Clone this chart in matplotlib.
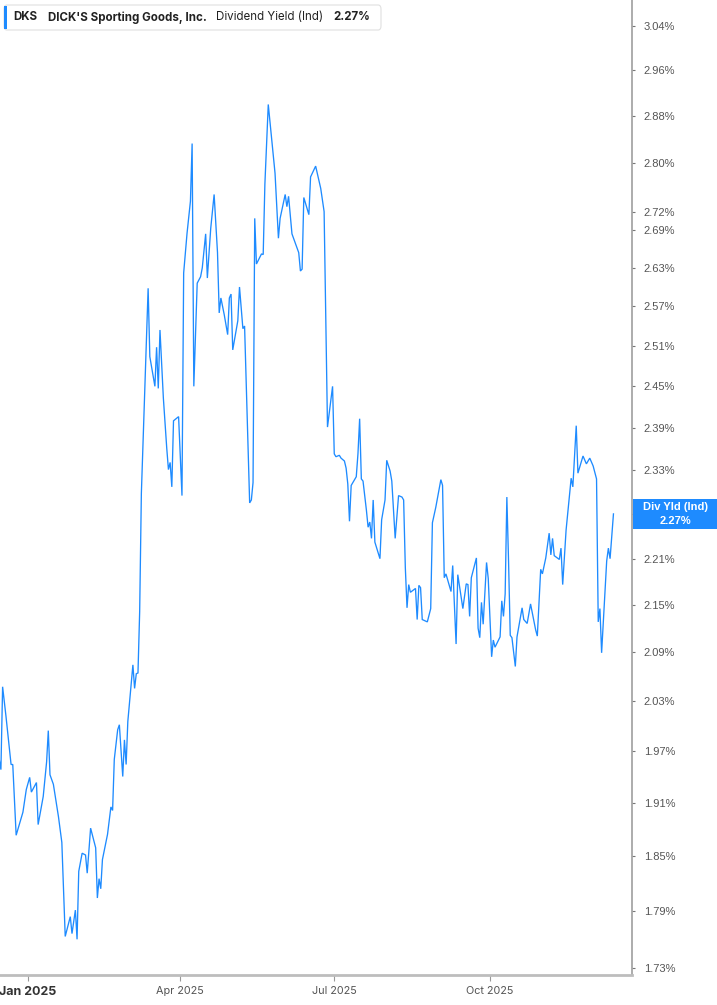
import matplotlib
matplotlib.use("Agg")
import matplotlib.pyplot as plt
import matplotlib.ticker as mticker
from matplotlib.patches import FancyBboxPatch, Rectangle
import pandas as pd

# ---------------- data ----------------
dates = [
    "2024-12-15", "2024-12-16", "2024-12-17", "2024-12-19", "2024-12-22", "2024-12-23",
    "2024-12-25", "2024-12-29", "2024-12-31", "2025-01-02", "2025-01-03", "2025-01-06",
    "2025-01-07", "2025-01-10", "2025-01-12", "2025-01-13", "2025-01-14", "2025-01-16",
    "2025-01-19", "2025-01-21", "2025-01-23", "2025-01-26", "2025-01-27", "2025-01-29",
    "2025-01-30", "2025-01-31", "2025-02-02", "2025-02-04", "2025-02-05", "2025-02-07",
    "2025-02-10", "2025-02-11", "2025-02-12", "2025-02-13", "2025-02-14", "2025-02-17",
    "2025-02-19", "2025-02-20", "2025-02-21", "2025-02-23", "2025-02-24", "2025-02-26",
    "2025-02-27", "2025-02-28", "2025-03-01", "2025-03-04", "2025-03-05", "2025-03-06",
    "2025-03-07", "2025-03-08", "2025-03-09", "2025-03-11", "2025-03-13", "2025-03-14",
    "2025-03-17", "2025-03-18", "2025-03-19", "2025-03-20", "2025-03-22", "2025-03-24",
    "2025-03-25", "2025-03-26", "2025-03-27", "2025-03-28", "2025-03-31", "2025-04-01",
    "2025-04-02", "2025-04-03", "2025-04-05", "2025-04-07", "2025-04-08", "2025-04-09",
    "2025-04-11", "2025-04-13", "2025-04-14", "2025-04-16", "2025-04-17", "2025-04-19",
    "2025-04-21", "2025-04-23", "2025-04-24", "2025-04-25", "2025-04-27", "2025-04-29",
    "2025-04-30", "2025-05-01", "2025-05-02", "2025-05-05", "2025-05-06", "2025-05-08",
    "2025-05-09", "2025-05-12", "2025-05-13", "2025-05-14", "2025-05-15", "2025-05-16",
    "2025-05-19", "2025-05-20", "2025-05-21", "2025-05-23", "2025-05-27", "2025-05-29",
    "2025-05-30", "2025-06-02", "2025-06-03", "2025-06-04", "2025-06-06", "2025-06-10",
    "2025-06-11", "2025-06-12", "2025-06-13", "2025-06-16", "2025-06-17", "2025-06-20",
    "2025-06-23", "2025-06-25", "2025-06-27", "2025-06-30", "2025-07-01", "2025-07-02",
    "2025-07-04", "2025-07-05", "2025-07-07", "2025-07-08", "2025-07-09", "2025-07-10",
    "2025-07-11", "2025-07-14", "2025-07-15", "2025-07-16", "2025-07-17", "2025-07-18",
    "2025-07-20", "2025-07-21", "2025-07-22", "2025-07-23", "2025-07-24", "2025-07-25",
    "2025-07-28", "2025-07-29", "2025-07-31", "2025-08-01", "2025-08-03", "2025-08-04",
    "2025-08-06", "2025-08-08", "2025-08-10", "2025-08-11", "2025-08-12", "2025-08-13",
    "2025-08-14", "2025-08-15", "2025-08-18", "2025-08-19", "2025-08-20", "2025-08-21",
    "2025-08-22", "2025-08-25", "2025-08-27", "2025-08-28", "2025-08-30", "2025-09-02",
    "2025-09-03", "2025-09-04", "2025-09-05", "2025-09-08", "2025-09-09", "2025-09-11",
    "2025-09-12", "2025-09-15", "2025-09-17", "2025-09-18", "2025-09-19", "2025-09-20",
    "2025-09-23", "2025-09-24", "2025-09-25", "2025-09-26", "2025-09-27", "2025-09-29",
    "2025-09-30", "2025-10-02", "2025-10-03", "2025-10-04", "2025-10-07", "2025-10-08",
    "2025-10-09", "2025-10-10", "2025-10-11", "2025-10-12", "2025-10-13", "2025-10-14",
    "2025-10-16", "2025-10-17", "2025-10-20", "2025-10-21", "2025-10-23", "2025-10-25",
    "2025-10-28", "2025-10-29", "2025-10-31", "2025-11-01", "2025-11-03", "2025-11-05",
    "2025-11-06", "2025-11-07", "2025-11-08", "2025-11-11", "2025-11-12", "2025-11-13",
    "2025-11-15", "2025-11-18", "2025-11-19", "2025-11-21", "2025-11-22", "2025-11-25",
    "2025-11-27", "2025-11-29", "2025-12-01", "2025-12-03", "2025-12-04", "2025-12-05",
    "2025-12-06", "2025-12-09", "2025-12-10", "2025-12-11", "2025-12-13",
]

div_yield = [
    1.960, 1.948, 2.047, 2.011, 1.954, 1.954,
    1.873, 1.899, 1.925, 1.939, 1.922, 1.933,
    1.885, 1.917, 1.957, 1.994, 1.942, 1.931,
    1.894, 1.865, 1.763, 1.784, 1.766, 1.791,
    1.760, 1.833, 1.853, 1.851, 1.831, 1.881,
    1.859, 1.804, 1.825, 1.814, 1.846, 1.874,
    1.905, 1.901, 1.960, 1.995, 2.001, 1.940,
    1.983, 1.954, 2.005, 2.074, 2.045, 2.063,
    2.064, 2.141, 2.298, 2.444, 2.598, 2.494,
    2.450, 2.508, 2.447, 2.534, 2.433, 2.361,
    2.331, 2.341, 2.307, 2.400, 2.406, 2.349,
    2.295, 2.622, 2.685, 2.737, 2.833, 2.450,
    2.606, 2.616, 2.630, 2.684, 2.614, 2.693,
    2.748, 2.654, 2.560, 2.583, 2.557, 2.527,
    2.583, 2.589, 2.504, 2.548, 2.600, 2.536,
    2.540, 2.285, 2.289, 2.313, 2.709, 2.636,
    2.652, 2.651, 2.765, 2.900, 2.783, 2.677,
    2.709, 2.748, 2.728, 2.745, 2.684, 2.654,
    2.625, 2.628, 2.743, 2.715, 2.777, 2.795,
    2.758, 2.720, 2.391, 2.450, 2.353, 2.349,
    2.351, 2.347, 2.343, 2.333, 2.311, 2.260,
    2.309, 2.321, 2.353, 2.403, 2.318, 2.315,
    2.275, 2.252, 2.259, 2.237, 2.289, 2.232,
    2.210, 2.262, 2.289, 2.344, 2.329, 2.315,
    2.237, 2.295, 2.293, 2.289, 2.198, 2.146,
    2.176, 2.166, 2.171, 2.131, 2.175, 2.172,
    2.131, 2.128, 2.145, 2.258, 2.279, 2.317,
    2.309, 2.185, 2.190, 2.167, 2.201, 2.100,
    2.189, 2.145, 2.177, 2.176, 2.135, 2.185,
    2.211, 2.120, 2.108, 2.153, 2.125, 2.205,
    2.184, 2.084, 2.105, 2.096, 2.109, 2.155,
    2.135, 2.164, 2.293, 2.207, 2.111, 2.108,
    2.072, 2.109, 2.146, 2.131, 2.126, 2.151,
    2.118, 2.110, 2.196, 2.190, 2.211, 2.244,
    2.215, 2.237, 2.214, 2.209, 2.224, 2.176,
    2.248, 2.319, 2.307, 2.393, 2.326, 2.350,
    2.339, 2.347, 2.336, 2.318, 2.128, 2.145,
    2.089, 2.207, 2.224, 2.210, 2.270,
]

ytick_values = [1.73, 1.79, 1.85, 1.91, 1.97, 2.03, 2.09, 2.15, 2.21, 2.27, 2.33,
                2.39, 2.45, 2.51, 2.57, 2.63, 2.69, 2.72, 2.80, 2.88, 2.96, 3.04]
xtick_dates = ["2025-01-01", "2025-04-01", "2025-07-01", "2025-10-01"]
xtick_labels = ["Jan 2025", "Apr 2025", "Jul 2025", "Oct 2025"]

ticker_symbol = "DKS"
company_name = "DICK'S Sporting Goods, Inc."
metric_name = "Dividend Yield (Ind)"
metric_short = "Div Yld (Ind)"
last_value = div_yield[-1]

# ---------------- figure ----------------
W, H = 717, 1005
LINE_BLUE = "#1E8BFF"
fig = plt.figure(figsize=(W / 100, H / 100), dpi=100)
fig.patch.set_facecolor("white")

ax_left, ax_right, ax_top, ax_bottom = 0, 632, 0, 975   # pixel frame
ax = fig.add_axes([ax_left / W, (H - ax_bottom) / H,
                   (ax_right - ax_left) / W, (ax_bottom - ax_top) / H])

x = pd.to_datetime(dates)
ax.plot(x, div_yield, color=LINE_BLUE, lw=0.95, solid_joinstyle="miter")

ax.set_yscale("log")
ax.set_ylim(1.7228, 3.087)
ax.set_xlim(pd.Timestamp("2024-12-15 11:00"), pd.Timestamp("2025-12-23 23:00"))

# the tick at the current value is hidden behind the value box
ytick_text = ["" if abs(v - last_value) < 1e-9 else f"{v:.2f}%" for v in ytick_values]
ax.yaxis.set_major_locator(mticker.FixedLocator(ytick_values))
ax.yaxis.set_major_formatter(mticker.FixedFormatter(ytick_text))
ax.yaxis.set_minor_locator(mticker.NullLocator())
ax.yaxis.set_minor_formatter(mticker.NullFormatter())
ax.yaxis.tick_right()

ax.set_xticks(pd.to_datetime(xtick_dates))
ax.set_xticklabels(xtick_labels)
ax.xaxis.set_minor_locator(mticker.NullLocator())

for s in ("top", "left"):
    ax.spines[s].set_visible(False)
ax.spines["right"].set_color("#9e9e9e")
ax.spines["right"].set_linewidth(1.2)
ax.spines["bottom"].set_color("#bdbdbd")
ax.spines["bottom"].set_linewidth(2.0)

ax.tick_params(axis="y", length=2.5, width=0.8, color="#777777", pad=6,
               labelsize=8, labelcolor="#555555")
ax.tick_params(axis="x", length=4, width=0.8, color="#999999", pad=4,
               labelsize=7.8, labelcolor="#555555")
for lab in ax.get_yticklabels():
    lab.set_family(["Liberation Sans", "DejaVu Sans"])
for i, lab in enumerate(ax.get_xticklabels()):
    lab.set_family(["Inter", "DejaVu Sans"])
    if i == 0:
        lab.set_fontweight("bold")
        lab.set_fontsize(9.0)
        lab.set_color("#333333")

# ---------------- last value label box on right axis ----------------
fig.canvas.draw()
y_disp = ax.transData.transform((ax.get_xlim()[0], last_value))[1]
y_fig = y_disp / fig.bbox.height
box_h = 30 / H
fig.patches.append(Rectangle((ax_right / W + 0.5 / W, y_fig - box_h / 2), (W - ax_right) / W, box_h,
                             transform=fig.transFigure, facecolor=LINE_BLUE,
                             edgecolor="none", zorder=5))
cx = (ax_right + (W - ax_right) / 2 + 1) / W
fig.text(cx, y_fig + 7 / H, metric_short, ha="center", va="center", color="white",
         fontsize=8, fontweight="bold", family=["Liberation Sans", "DejaVu Sans"], zorder=6)
fig.text(cx, y_fig - 7 / H, f"{last_value:.2f}%", ha="center", va="center", color="white",
         fontsize=8, fontweight="bold", family=["Liberation Sans", "DejaVu Sans"], zorder=6)

# ---------------- legend header ----------------
def px(xp, yp):
    return xp / W, 1 - yp / H

lx0, ly0, lx1, ly1 = 4, 5, 381, 30
fig.patches.append(FancyBboxPatch(px(lx0, ly1), (lx1 - lx0) / W, (ly1 - ly0) / H,
                                  boxstyle="round,pad=0,rounding_size=0.004",
                                  transform=fig.transFigure, facecolor="white",
                                  edgecolor="#e0e0e0", lw=0.8, zorder=5))
fig.patches.append(Rectangle(px(4, 29), 3 / W, 23 / H, transform=fig.transFigure,
                             facecolor=LINE_BLUE, edgecolor="none", zorder=6))
ty = 1 - 17.5 / H
fam = ["Inter", "DejaVu Sans"]
fig.text(13 / W, ty, ticker_symbol, ha="left", va="center", fontsize=8.3,
         fontweight="bold", color="#222222", family=fam, zorder=7)
fig.text(48 / W, ty, company_name, ha="left", va="center", fontsize=8.3,
         fontweight="bold", color="#222222", family=fam, zorder=7)
fig.text(216 / W, ty, metric_name, ha="left", va="center", fontsize=8.3,
         color="#222222", family=fam, zorder=7)
fig.text(333 / W, ty, f"{last_value:.2f}%", ha="left", va="center", fontsize=8.3,
         fontweight="bold", color="#222222", family=fam, zorder=7)

fig.savefig("out.png", dpi=100, facecolor="white")
